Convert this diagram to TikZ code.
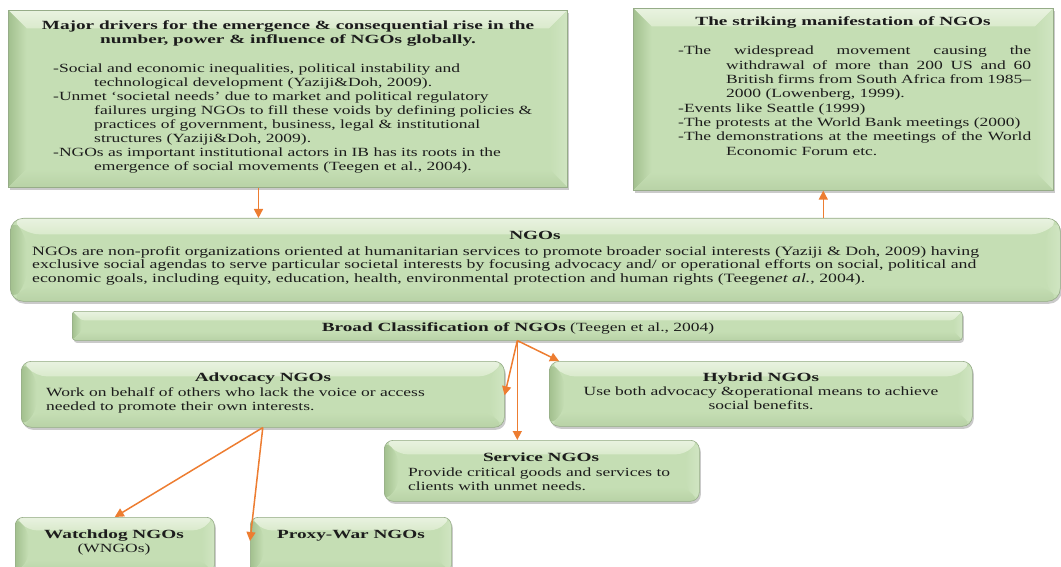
\documentclass[tikz,border=0pt]{standalone}
\usepackage{fontspec}
\setmainfont{Liberation Serif}[FakeStretch=1.40, BoldFont={Liberation Serif Bold}, BoldFeatures={FakeStretch=1.54}]
\usetikzlibrary{arrows.meta,shadows,calc}
\definecolor{bx}{RGB}{197,222,180}
\definecolor{bxlight}{RGB}{218,234,204}
\definecolor{bxdark}{RGB}{162,192,142}
\definecolor{bxmid}{RGB}{208,229,194}
\definecolor{bxbot}{RGB}{184,210,166}
\definecolor{bxline}{RGB}{150,172,136}
\definecolor{arrc}{RGB}{237,125,49}
\definecolor{txt}{RGB}{28,28,28}
\tikzset{
  bev/.style={path picture={
    \coordinate (bNW) at (path picture bounding box.north west);
    \coordinate (bNE) at (path picture bounding box.north east);
    \coordinate (bSW) at (path picture bounding box.south west);
    \coordinate (bSE) at (path picture bounding box.south east);
    \shade[top color=bxlight!60!white, bottom color=bxlight] (bNW) -- (bNE) -- ([shift={(-#1,-#1)}]bNE) -- ([shift={(#1,-#1)}]bNW) -- cycle;
    \shade[left color=bxdark, right color=bx] (bNW) -- ([shift={(#1,-#1)}]bNW) -- ([shift={(#1,#1)}]bSW) -- (bSW) -- cycle;
    \shade[left color=bx, right color=bxmid] (bNE) -- ([shift={(-#1,-#1)}]bNE) -- ([shift={(-#1,#1)}]bSE) -- (bSE) -- cycle;
    \shade[top color=bx, bottom color=bxbot] (bSW) -- ([shift={(#1,#1)}]bSW) -- ([shift={(-#1,#1)}]bSE) -- (bSE) -- cycle;
  }},
  box/.style={draw=bxline, line width=0.6pt, fill=bx, inner sep=0pt, anchor=north west,
    drop shadow={shadow xshift=1.5pt, shadow yshift=-2.5pt, opacity=0.35, fill=black!60}},
  lbl/.style={inner sep=0pt, text=txt},
  arr/.style={draw=arrc, line width=1.5pt, -{Triangle[length=9pt,width=9pt]}},
}
\begin{document}
\begin{tikzpicture}[x=1pt,y=-1pt]
\useasboundingbox (0,0) rectangle (1061,567);
\fontsize{12.5}{14}\selectfont
% boxes
\node[box, bev=18pt, minimum width=559pt, minimum height=177pt] (drivers) at (8,10) {};
\node[box, bev=18pt, minimum width=420pt, minimum height=182pt] (manif) at (633,8) {};
\node[box, bev=16pt, rounded corners=13pt, minimum width=1050pt, minimum height=83pt] (ngos) at (10,218) {};
\node[box, bev=9pt, rounded corners=3pt, minimum width=890pt, minimum height=29pt] (classif) at (72,311) {};
\node[box, bev=15pt, rounded corners=10pt, minimum width=483pt, minimum height=66pt] (advocacy) at (21,361) {};
\node[box, bev=15pt, rounded corners=10pt, minimum width=423pt, minimum height=65pt] (hybrid) at (549,361) {};
\node[box, bev=14pt, rounded corners=9pt, minimum width=315pt, minimum height=61pt] (service) at (384,440) {};
\node[box, bev=13pt, rounded corners=8pt, minimum width=199pt, minimum height=56pt] (watchdog) at (15,517) {};
\node[box, bev=13pt, rounded corners=8pt, minimum width=201pt, minimum height=56pt] (proxy) at (250,517) {};

% texts
\node[lbl, anchor=base] (t1) at (288,30) {\begin{tabular}[t]{@{}c@{}}\bfseries Major drivers for the emergence \& consequential rise in the\\ \bfseries number, power \& influence of NGOs globally.\end{tabular}};
\node[lbl, anchor=base west] (b1) at (53,73) {\begin{tabular}[t]{@{}l@{}}
-Social and economic inequalities, political instability and\\
\hspace*{41pt}technological development (Yaziji\&Doh, 2009).\\
-Unmet ‘societal needs’ due to market and political regulatory\\
\hspace*{41pt}failures urging NGOs to fill these voids by defining policies \&\\
\hspace*{41pt}practices of government, business, legal \& institutional\\
\hspace*{41pt}structures (Yaziji\&Doh, 2009).\\
-NGOs as important institutional actors in IB has its roots in the\\
\hspace*{41pt}emergence of social movements (Teegen et al., 2004).
\end{tabular}};

\node[lbl, anchor=base] (t2) at (843,26) {\bfseries The striking manifestation of NGOs};
\node[lbl, anchor=base west] (b2) at (678,55) {\fontsize{12.5}{14.3}\selectfont\begin{tabular}[t]{@{}l@{}}
\makebox[353pt][s]{-The widespread movement causing the}\\
\hspace*{48pt}\makebox[305pt][s]{withdrawal of more than 200 US and 60}\\
\hspace*{48pt}\makebox[305pt][s]{British firms from South Africa from 1985–}\\
\hspace*{48pt}2000 (Lowenberg, 1999).\\
-Events like Seattle (1999)\\
-The protests at the World Bank meetings (2000)\\
\makebox[353pt][s]{-The demonstrations at the meetings of the World}\\
\hspace*{48pt}Economic Forum etc.
\end{tabular}};

\node[lbl, anchor=base] (t3) at (535,240) {\bfseries NGOs};
\node[lbl, anchor=base west] (b3) at (32,255) {\fontsize{12.7}{13.5}\selectfont\begin{tabular}[t]{@{}l@{}}
NGOs are non-profit organizations oriented at humanitarian services to promote broader social interests (Yaziji \& Doh, 2009) having\\
exclusive social agendas to serve particular societal interests by focusing advocacy and/ or operational efforts on social, political and\\
economic goals, including equity, education, health, environmental protection and human rights (Teegen\textit{et al.}, 2004).
\end{tabular}};

\node[lbl, anchor=base] (t4) at (518,331) {\textbf{Broad Classification of NGOs} (Teegen et al., 2004)};

\node[lbl, anchor=base] (t5) at (263,381) {\bfseries Advocacy NGOs};
\node[lbl, anchor=base west] (b5) at (46,396) {\begin{tabular}[t]{@{}l@{}}
Work on behalf of others who lack the voice or access\\
needed to promote their own interests.
\end{tabular}};

\node[lbl, anchor=base] (t6) at (761,381) {\begin{tabular}[t]{@{}c@{}}
\bfseries Hybrid NGOs\\
Use both advocacy \&operational means to achieve\\
social benefits.
\end{tabular}};

\node[lbl, anchor=base] (t7) at (541,461) {\bfseries Service NGOs};
\node[lbl, anchor=base west] (b7) at (408,476) {\begin{tabular}[t]{@{}l@{}}
Provide critical goods and services to\\
clients with unmet needs.
\end{tabular}};

\node[lbl, anchor=base] (t8) at (114,538) {\begin{tabular}[t]{@{}c@{}}
\bfseries Watchdog NGOs\\
(WNGOs)
\end{tabular}};
\node[lbl, anchor=base] (t9) at (351,538) {\bfseries Proxy-War NGOs};

% connectors
\coordinate (d1) at ($(drivers.south west)!0.4476!(drivers.south east)$);
\draw[arr] (d1) -- (d1 |- ngos.north);
\coordinate (m1) at ($(manif.south west)!0.4524!(manif.south east)$);
\draw[arr] (m1 |- ngos.north) -- (m1);
\draw[arr] (classif.south) -- ([yshift=-1pt]advocacy.east);
\draw[arr] (classif.south) -- (classif.south |- service.north);
\draw[arr] (classif.south) -- ($(hybrid.north west)+(10,0)$);
\draw[arr] (advocacy.south) -- (watchdog.north);
\draw[arr] (advocacy.south) -- ($(proxy.north west)+(0,24)$);
\end{tikzpicture}
\end{document}
